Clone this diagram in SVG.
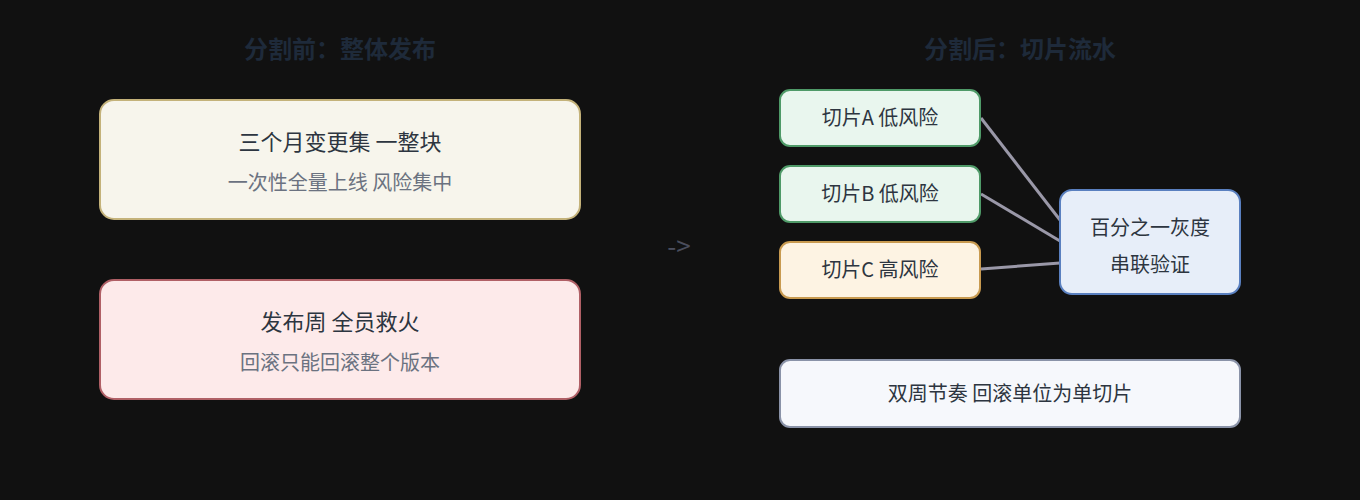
<svg xmlns="http://www.w3.org/2000/svg" width="1360" height="500" viewBox="0 0 1360 500">
<style>
text{font-family:"Noto Sans CJK SC","Noto Sans",sans-serif;text-anchor:middle}
.t{font-size:24px;font-weight:bold;fill:#1e2a3a}
.m{font-size:22px;fill:#2d3540}
.s{font-size:20px;fill:#6b7280}
.n{font-size:20px;fill:#2d3540}
.c{stroke:#9a98a8;stroke-width:3;fill:none}
</style>
<rect width="1360" height="500" fill="#111111"/>
<text class="t" x="340" y="58">分割前：整体发布</text>
<text class="t" x="1020" y="58">分割后：切片流水</text>
<g id="before1"><rect x="100" y="100" width="480" height="119" rx="14" fill="#f7f5ec" stroke="#c4b27a" stroke-width="2"/><text class="m" x="340" y="150">三个月变更集 一整块</text><text class="s" x="340" y="190">一次性全量上线 风险集中</text></g>
<g id="before2"><rect x="100" y="280" width="480" height="119" rx="14" fill="#fdeaea" stroke="#b06066" stroke-width="2"/><text class="m" x="340" y="330">发布周 全员救火</text><text class="s" x="340" y="370">回滚只能回滚整个版本</text></g>
<text x="679" y="256" font-size="26" fill="#4a4d5c" font-family="Liberation Mono,monospace" style="text-anchor:middle">-&gt;</text>
<g id="connectors">
<line class="c" x1="981" y1="118" x2="1060" y2="220"/>
<line class="c" x1="981" y1="194" x2="1060" y2="241"/>
<line class="c" x1="981" y1="269" x2="1060" y2="263"/>
</g>
<g id="sliceA"><rect x="780" y="90" width="200" height="56" rx="10" fill="#e9f6ee" stroke="#4f9a68" stroke-width="2"/><text class="n" x="880" y="125">切片A 低风险</text></g>
<g id="sliceB"><rect x="780" y="166" width="200" height="56" rx="10" fill="#e9f6ee" stroke="#4f9a68" stroke-width="2"/><text class="n" x="880" y="201">切片B 低风险</text></g>
<g id="sliceC"><rect x="780" y="242" width="200" height="56" rx="10" fill="#fdf3e3" stroke="#c89a50" stroke-width="2"/><text class="n" x="880" y="277">切片C 高风险</text></g>
<g id="canary"><rect x="1060" y="190" width="180" height="104" rx="12" fill="#e7eef9" stroke="#5a80c0" stroke-width="2"/><text class="n" x="1150" y="235">百分之一灰度</text><text class="n" x="1150" y="272">串联验证</text></g>
<g id="cadence"><rect x="780" y="360" width="460" height="67" rx="10" fill="#f6f8fc" stroke="#8a93a8" stroke-width="2"/><text class="n" x="1010" y="401">双周节奏 回滚单位为单切片</text></g>
</svg>
